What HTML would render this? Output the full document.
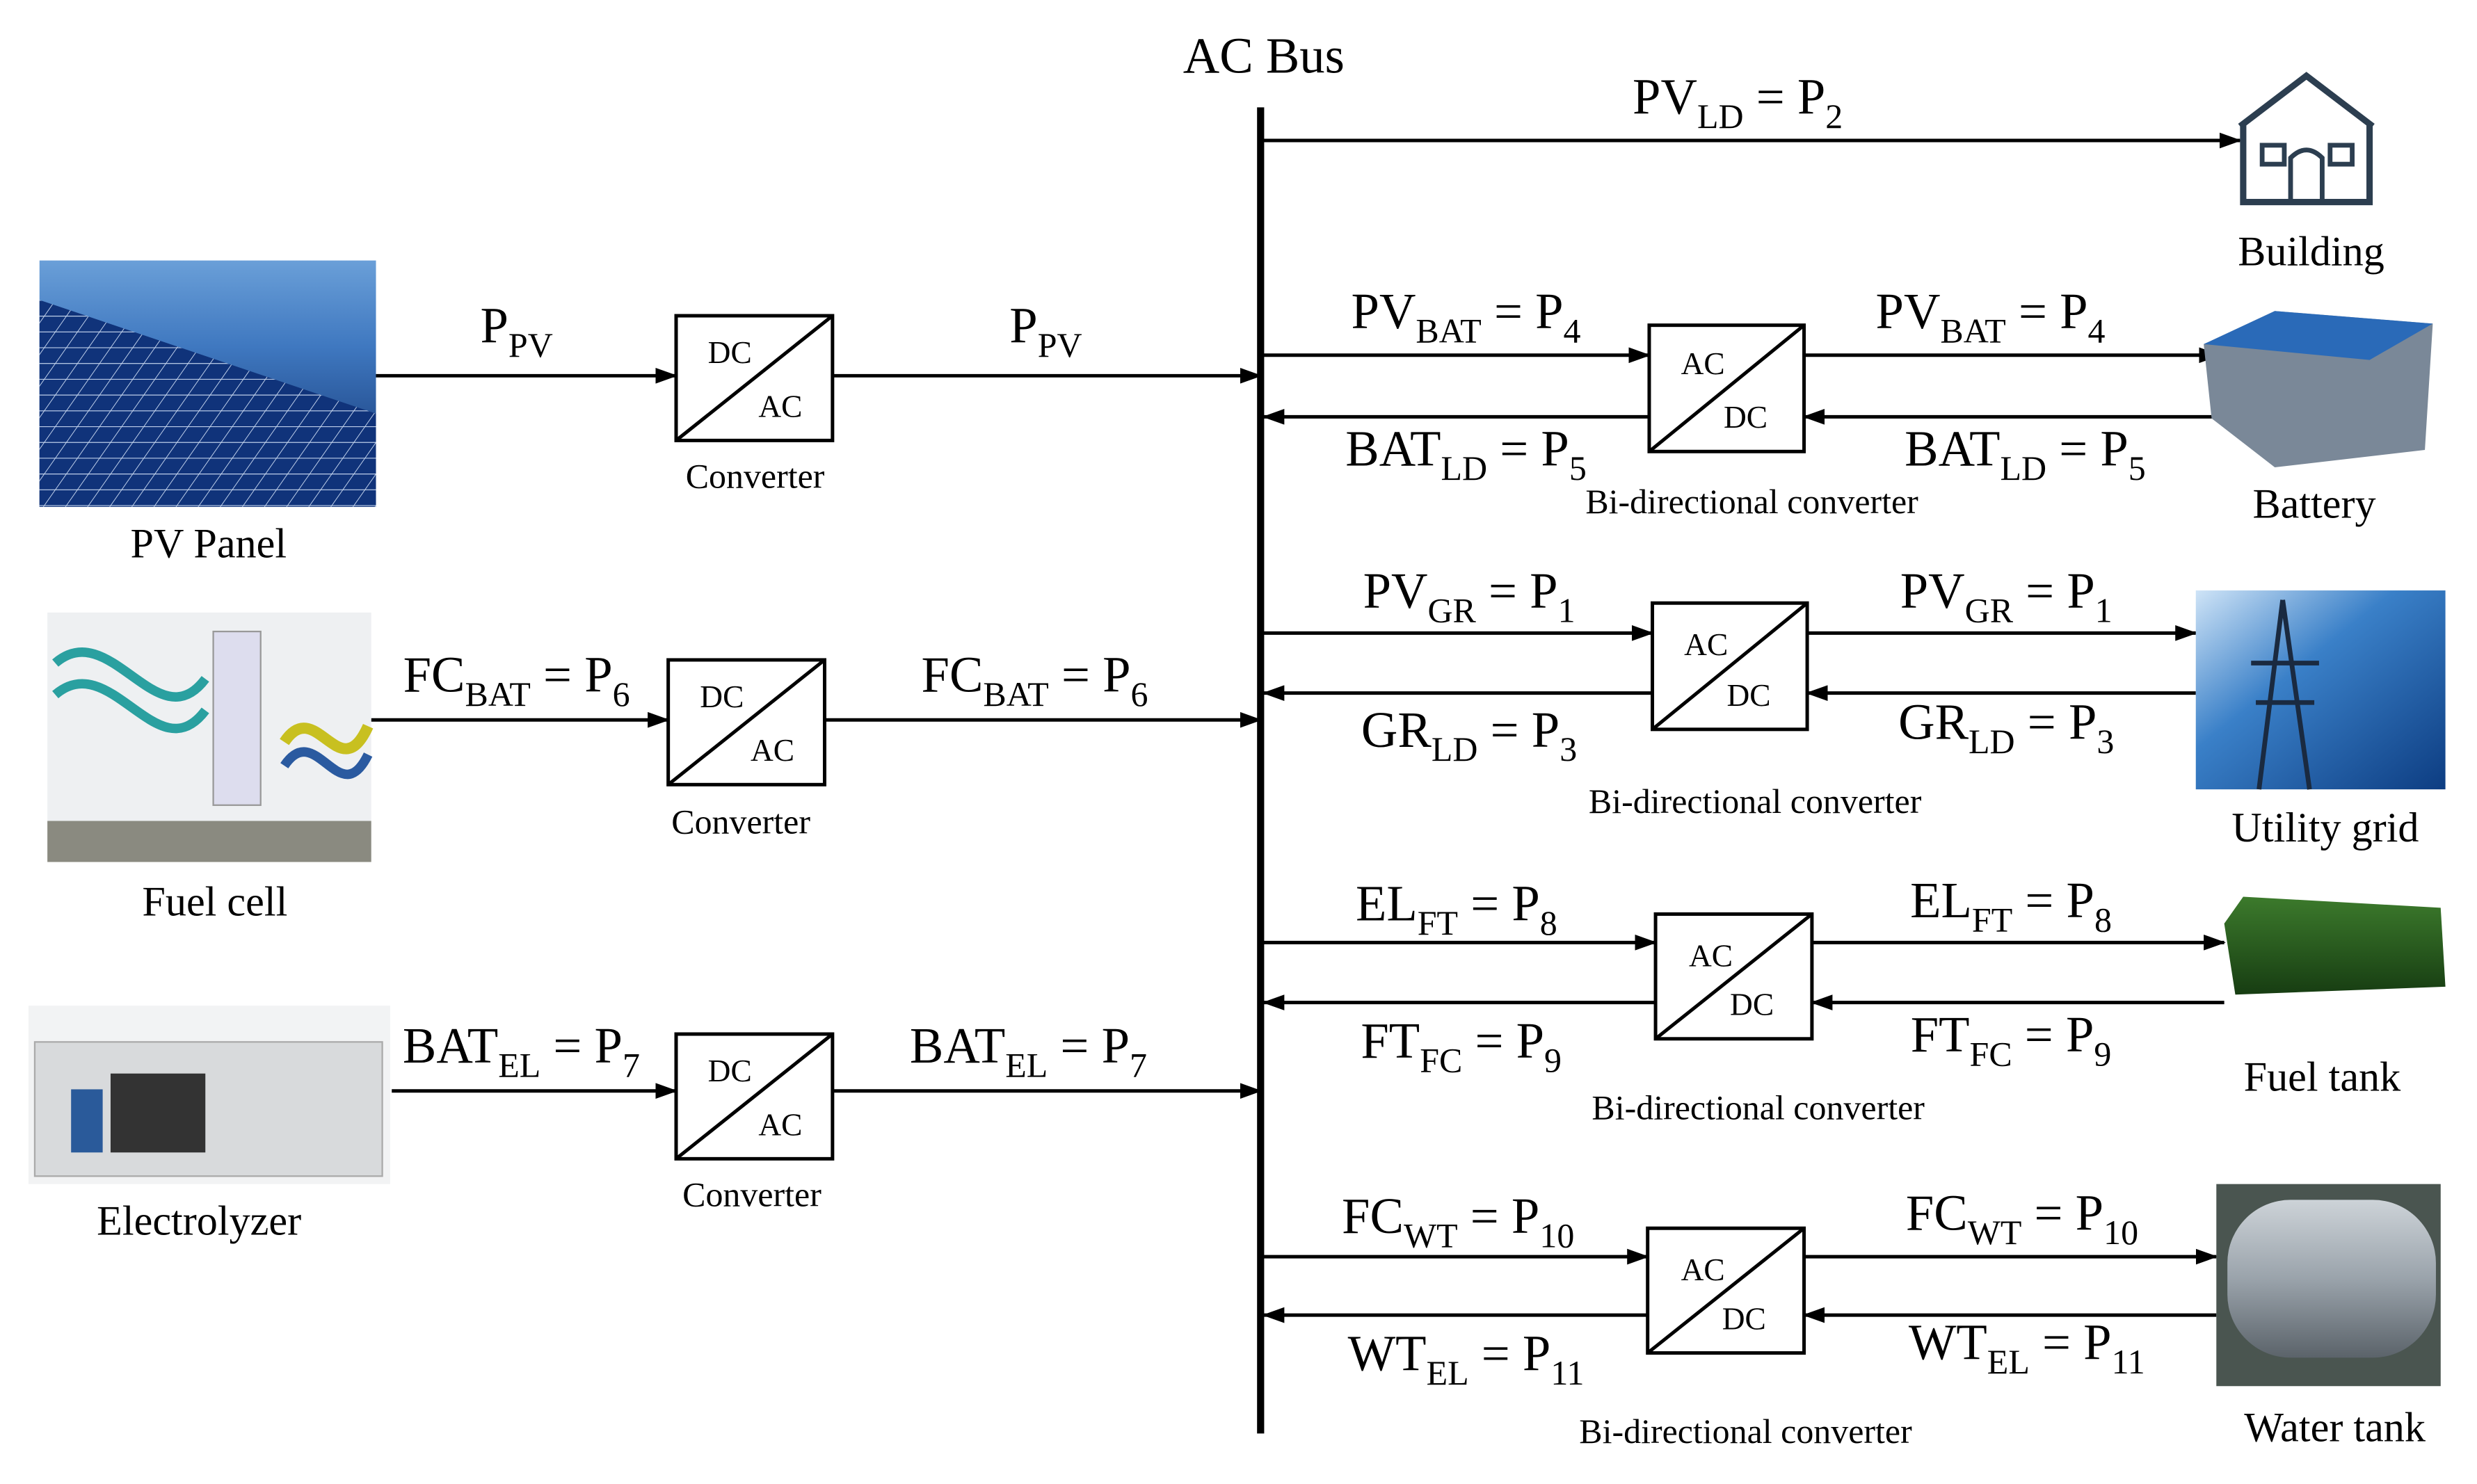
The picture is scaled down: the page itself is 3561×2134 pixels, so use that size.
<!DOCTYPE html>
<html><head><meta charset="utf-8"><style>html,body{margin:0;padding:0;background:#fff}svg{display:block}</style></head><body>
<svg width="3561" height="2134" viewBox="0 0 1568 940" preserveAspectRatio="none" xmlns="http://www.w3.org/2000/svg" font-family="Liberation Serif, serif">
<defs>
<marker id="a" markerWidth="14" markerHeight="10" refX="13" refY="5" orient="auto" markerUnits="userSpaceOnUse"><path d="M0,0 L14,5 L0,10 z" fill="#000"/></marker>
<linearGradient id="sky" x1="0" y1="0" x2="0" y2="1"><stop offset="0" stop-color="#6a9fd8"/><stop offset="0.35" stop-color="#3f78c0"/><stop offset="1" stop-color="#0c2a66"/></linearGradient>
<linearGradient id="grid" x1="0" y1="0" x2="1" y2="1"><stop offset="0" stop-color="#cfe4f7"/><stop offset="0.4" stop-color="#3a80c8"/><stop offset="1" stop-color="#0d3d82"/></linearGradient>
<linearGradient id="wt" x1="0" y1="0" x2="0" y2="1"><stop offset="0" stop-color="#cdd3d8"/><stop offset="0.5" stop-color="#9aa3ab"/><stop offset="1" stop-color="#5b636a"/></linearGradient>
<linearGradient id="ft" x1="0" y1="0" x2="0" y2="1"><stop offset="0" stop-color="#3c7a2c"/><stop offset="1" stop-color="#173d12"/></linearGradient>
<pattern id="pv" width="14" height="10" patternUnits="userSpaceOnUse" patternTransform="skewX(-35)"><rect width="14" height="10" fill="#10337a"/><path d="M0,0H14M0,0V10" stroke="#c8d8f0" stroke-width="1"/></pattern>
</defs>
<g stroke="#000" stroke-width="2.2" fill="none">
<line x1="798" y1="68" x2="798" y2="908" stroke-width="4.5"/>
<line x1="800" y1="89" x2="1418" y2="89" marker-end="url(#a)"/>
<line x1="238" y1="238" x2="428" y2="238" marker-end="url(#a)"/>
<line x1="527" y1="238" x2="798" y2="238" marker-end="url(#a)"/>
<rect x="428" y="200" width="99" height="79"/><line x1="428" y1="279" x2="527" y2="200"/>
<line x1="235" y1="456" x2="423" y2="456" marker-end="url(#a)"/>
<line x1="522" y1="456" x2="798" y2="456" marker-end="url(#a)"/>
<rect x="423" y="418" width="99" height="79"/><line x1="423" y1="497" x2="522" y2="418"/>
<line x1="248" y1="691" x2="428" y2="691" marker-end="url(#a)"/>
<line x1="527" y1="691" x2="798" y2="691" marker-end="url(#a)"/>
<rect x="428" y="655" width="99" height="79"/><line x1="428" y1="734" x2="527" y2="655"/>
<line x1="800" y1="225" x2="1044" y2="225" marker-end="url(#a)"/>
<line x1="1142" y1="225" x2="1405" y2="225" marker-end="url(#a)"/>
<line x1="1405" y1="264" x2="1142" y2="264" marker-end="url(#a)"/>
<line x1="1044" y1="264" x2="800" y2="264" marker-end="url(#a)"/>
<rect x="1044" y="206" width="98" height="80"/><line x1="1044" y1="286" x2="1142" y2="206"/>
<line x1="800" y1="401" x2="1046" y2="401" marker-end="url(#a)"/>
<line x1="1144" y1="401" x2="1390" y2="401" marker-end="url(#a)"/>
<line x1="1390" y1="439" x2="1144" y2="439" marker-end="url(#a)"/>
<line x1="1046" y1="439" x2="800" y2="439" marker-end="url(#a)"/>
<rect x="1046" y="382" width="98" height="80"/><line x1="1046" y1="462" x2="1144" y2="382"/>
<line x1="800" y1="597" x2="1048" y2="597" marker-end="url(#a)"/>
<line x1="1147" y1="597" x2="1408" y2="597" marker-end="url(#a)"/>
<line x1="1408" y1="635" x2="1147" y2="635" marker-end="url(#a)"/>
<line x1="1048" y1="635" x2="800" y2="635" marker-end="url(#a)"/>
<rect x="1048" y="579" width="99" height="79"/><line x1="1048" y1="658" x2="1147" y2="579"/>
<line x1="800" y1="796" x2="1043" y2="796" marker-end="url(#a)"/>
<line x1="1142" y1="796" x2="1403" y2="796" marker-end="url(#a)"/>
<line x1="1403" y1="833" x2="1142" y2="833" marker-end="url(#a)"/>
<line x1="1043" y1="833" x2="800" y2="833" marker-end="url(#a)"/>
<rect x="1043" y="778" width="99" height="79"/><line x1="1043" y1="857" x2="1142" y2="778"/>
</g>
<rect x="25" y="165" width="213" height="156" fill="url(#sky)"/>
<polygon points="25,190 238,262 238,321 25,321" fill="url(#pv)"/>
<rect x="30" y="388" width="205" height="158" fill="#eef0f2"/>
<rect x="30" y="520" width="205" height="26" fill="#8a8a80"/>
<path d="M35,420 C70,390 100,470 130,430 M35,440 C70,410 100,490 130,450" stroke="#2aa0a0" stroke-width="6" fill="none"/>
<path d="M180,470 C200,440 215,500 233,460" stroke="#c8c020" stroke-width="7" fill="none"/>
<path d="M180,485 C200,455 215,515 233,478" stroke="#2a5aa0" stroke-width="6" fill="none"/>
<rect x="135" y="400" width="30" height="110" fill="#dde" stroke="#999"/>
<rect x="18" y="637" width="229" height="113" fill="#f2f3f4"/>
<rect x="22" y="660" width="220" height="85" fill="#d8dadc" stroke="#aaa"/>
<rect x="70" y="680" width="60" height="50" fill="#333"/>
<rect x="45" y="690" width="20" height="40" fill="#2a5a9a"/>
<path d="M1418,80 L1460,48 L1502,80 M1420,78 V128 H1500 V78" stroke="#2c3e50" stroke-width="4" fill="none"/>
<rect x="1432" y="92" width="14" height="12" stroke="#2c3e50" stroke-width="3" fill="none"/><rect x="1475" y="92" width="14" height="12" stroke="#2c3e50" stroke-width="3" fill="none"/><path d="M1450,128 V100 Q1460,90 1470,100 V128" stroke="#2c3e50" stroke-width="3" fill="none"/>
<polygon points="1395,218 1440,197 1540,205 1535,285 1440,296 1400,265" fill="#7a8898"/>
<polygon points="1395,218 1440,197 1540,205 1500,228" fill="#2a6ab8"/>
<rect x="1390" y="374" width="158" height="126" fill="url(#grid)"/>
<path d="M1445,380 L1430,500 M1445,380 L1462,500 M1425,420 H1468 M1428,445 H1465" stroke="#1a2a40" stroke-width="3" fill="none"/>
<polygon points="1408,585 1420,568 1545,575 1548,625 1415,630" fill="url(#ft)"/>
<rect x="1403" y="750" width="142" height="128" fill="#4a5550"/>
<rect x="1410" y="760" width="132" height="100" rx="40" fill="url(#wt)"/>
<g font-size="32" text-anchor="middle" fill="#000">
<text x="800" y="46">AC Bus</text>
<text x="1100" y="72">PV<tspan font-size="22" dy="9">LD</tspan><tspan dy="-9"> = P</tspan><tspan font-size="22" dy="9">2</tspan></text>
<text x="327" y="217">P<tspan font-size="22" dy="9">PV</tspan></text>
<text x="662" y="217">P<tspan font-size="22" dy="9">PV</tspan></text>
<text x="327" y="438">FC<tspan font-size="22" dy="9">BAT</tspan><tspan dy="-9"> = P</tspan><tspan font-size="22" dy="9">6</tspan></text>
<text x="655" y="438">FC<tspan font-size="22" dy="9">BAT</tspan><tspan dy="-9"> = P</tspan><tspan font-size="22" dy="9">6</tspan></text>
<text x="330" y="673">BAT<tspan font-size="22" dy="9">EL</tspan><tspan dy="-9"> = P</tspan><tspan font-size="22" dy="9">7</tspan></text>
<text x="651" y="673">BAT<tspan font-size="22" dy="9">EL</tspan><tspan dy="-9"> = P</tspan><tspan font-size="22" dy="9">7</tspan></text>
<text x="928" y="208">PV<tspan font-size="22" dy="9">BAT</tspan><tspan dy="-9"> = P</tspan><tspan font-size="22" dy="9">4</tspan></text>
<text x="1260" y="208">PV<tspan font-size="22" dy="9">BAT</tspan><tspan dy="-9"> = P</tspan><tspan font-size="22" dy="9">4</tspan></text>
<text x="928" y="295">BAT<tspan font-size="22" dy="9">LD</tspan><tspan dy="-9"> = P</tspan><tspan font-size="22" dy="9">5</tspan></text>
<text x="1282" y="295">BAT<tspan font-size="22" dy="9">LD</tspan><tspan dy="-9"> = P</tspan><tspan font-size="22" dy="9">5</tspan></text>
<text x="930" y="385">PV<tspan font-size="22" dy="9">GR</tspan><tspan dy="-9"> = P</tspan><tspan font-size="22" dy="9">1</tspan></text>
<text x="1270" y="385">PV<tspan font-size="22" dy="9">GR</tspan><tspan dy="-9"> = P</tspan><tspan font-size="22" dy="9">1</tspan></text>
<text x="930" y="473">GR<tspan font-size="22" dy="9">LD</tspan><tspan dy="-9"> = P</tspan><tspan font-size="22" dy="9">3</tspan></text>
<text x="1270" y="468">GR<tspan font-size="22" dy="9">LD</tspan><tspan dy="-9"> = P</tspan><tspan font-size="22" dy="9">3</tspan></text>
<text x="922" y="583">EL<tspan font-size="22" dy="9">FT</tspan><tspan dy="-9"> = P</tspan><tspan font-size="22" dy="9">8</tspan></text>
<text x="1273" y="581">EL<tspan font-size="22" dy="9">FT</tspan><tspan dy="-9"> = P</tspan><tspan font-size="22" dy="9">8</tspan></text>
<text x="925" y="670">FT<tspan font-size="22" dy="9">FC</tspan><tspan dy="-9"> = P</tspan><tspan font-size="22" dy="9">9</tspan></text>
<text x="1273" y="666">FT<tspan font-size="22" dy="9">FC</tspan><tspan dy="-9"> = P</tspan><tspan font-size="22" dy="9">9</tspan></text>
<text x="923" y="781">FC<tspan font-size="22" dy="9">WT</tspan><tspan dy="-9"> = P</tspan><tspan font-size="22" dy="9">10</tspan></text>
<text x="1280" y="779">FC<tspan font-size="22" dy="9">WT</tspan><tspan dy="-9"> = P</tspan><tspan font-size="22" dy="9">10</tspan></text>
<text x="928" y="868">WT<tspan font-size="22" dy="9">EL</tspan><tspan dy="-9"> = P</tspan><tspan font-size="22" dy="9">11</tspan></text>
<text x="1283" y="861">WT<tspan font-size="22" dy="9">EL</tspan><tspan dy="-9"> = P</tspan><tspan font-size="22" dy="9">11</tspan></text>
</g>
<g font-size="26.5" text-anchor="middle">
<text x="1463" y="168">Building</text>
<text x="132" y="353">PV Panel</text>
<text x="136" y="580">Fuel cell</text>
<text x="126" y="782">Electrolyzer</text>
<text x="1465" y="328">Battery</text>
<text x="1472" y="533">Utility grid</text>
<text x="1470" y="691">Fuel tank</text>
<text x="1478" y="913">Water tank</text>
</g>
<g font-size="22" text-anchor="middle">
<text x="478" y="309">Converter</text>
<text x="469" y="528">Converter</text>
<text x="476" y="764">Converter</text>
<text x="1109" y="325">Bi-directional converter</text>
<text x="1111" y="515">Bi-directional converter</text>
<text x="1113" y="709">Bi-directional converter</text>
<text x="1105" y="914">Bi-directional converter</text>
</g>
<g font-size="20" text-anchor="middle">
<text x="462" y="230">DC</text><text x="494" y="264">AC</text>
<text x="457" y="448">DC</text><text x="489" y="482">AC</text>
<text x="462" y="685">DC</text><text x="494" y="719">AC</text>
<text x="1078" y="237">AC</text><text x="1105" y="271">DC</text>
<text x="1080" y="415">AC</text><text x="1107" y="447">DC</text>
<text x="1083" y="612">AC</text><text x="1109" y="643">DC</text>
<text x="1078" y="811">AC</text><text x="1104" y="842">DC</text>
</g>
</svg>
</body></html>
